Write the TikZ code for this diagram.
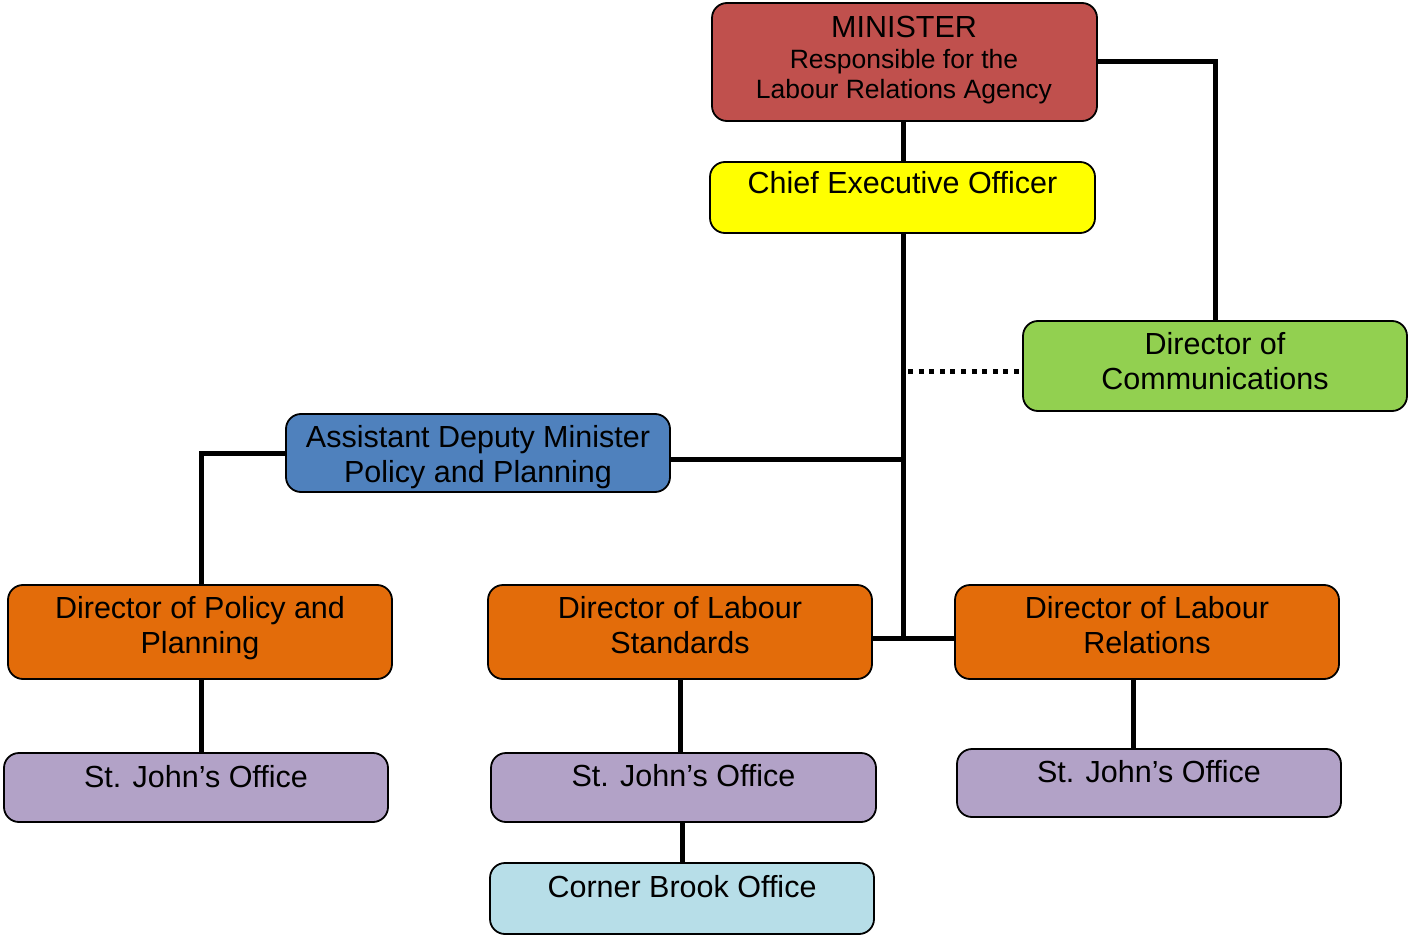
\documentclass[tikz,border=0pt]{standalone}
\usepackage{fontspec}
\setmainfont{Liberation Sans}
\definecolor{cmin}{HTML}{C0504D}
\definecolor{cceo}{HTML}{FFFF00}
\definecolor{ccom}{HTML}{92D050}
\definecolor{cadm}{HTML}{4F81BD}
\definecolor{cdir}{HTML}{E36C0A}
\definecolor{coff}{HTML}{B2A2C7}
\definecolor{ccb}{HTML}{B7DEE8}
\begin{document}
\begin{tikzpicture}[x=1pt,y=-1pt,
  box/.style={draw=black, line width=1.8pt, rounded corners=15pt, inner sep=0pt},
  bigtxt/.style={inner sep=0pt, align=center, font=\fontsize{30.5}{35}\selectfont},
  smalltxt/.style={inner sep=0pt, align=center, font=\fontsize{26.5}{30}\selectfont},
  conn/.style={line width=5pt},
  dotconn/.style={line width=5pt, dash pattern=on 5pt off 5.6pt}]
\useasboundingbox (0,0) rectangle (1409,936);
% boxes
\node[box, fill=cmin, minimum width=385pt, minimum height=118pt] (min) at (904.5,62) {};
\node[box, fill=cceo, minimum width=385pt, minimum height=71pt] (ceo) at (902.5,197.5) {};
\node[box, fill=ccom, minimum width=384pt, minimum height=90pt] (com) at (1215,366) {};
\node[box, fill=cadm, minimum width=384pt, minimum height=78pt] (adm) at (478,453) {};
\node[box, fill=cdir, minimum width=384pt, minimum height=94pt] (pol) at (200,632) {};
\node[box, fill=cdir, minimum width=384pt, minimum height=94pt] (std) at (680,632) {};
\node[box, fill=cdir, minimum width=384pt, minimum height=94pt] (rel) at (1147,632) {};
\node[box, fill=coff, minimum width=384pt, minimum height=69pt] (sja) at (196,787.5) {};
\node[box, fill=coff, minimum width=385pt, minimum height=69pt] (sjb) at (683.5,787.5) {};
\node[box, fill=coff, minimum width=384pt, minimum height=68pt] (sjc) at (1149,783) {};
\node[box, fill=ccb, minimum width=384pt, minimum height=71pt] (cb) at (682,898.5) {};
% texts
\node[bigtxt, anchor=base] (tmin) at (904,38) {MINISTER};
\node[smalltxt] (tmin2) at (904,77) {Responsible for the\\Labour Relations Agency};
\node[bigtxt, anchor=base] (tceo) at (902.5,194) {Chief Executive Officer};
\node[bigtxt] (tcom) at (1215,361) {Director of\\Communications};
\node[bigtxt] (tadm) at (478,457) {Assistant Deputy Minister\\Policy and Planning};
\node[bigtxt] (tpol) at (200,628) {Director of Policy and\\Planning};
\node[bigtxt] (tstd) at (680,625) {Director of Labour\\Standards};
\node[bigtxt] (trel) at (1147,625) {Director of Labour\\Relations};
\node[bigtxt, anchor=base] (tsja) at (196,787) {St. John’s Office};
\node[bigtxt, anchor=base] (tsjb) at (683.5,786) {St. John’s Office};
\node[bigtxt, anchor=base] (tsjc) at (1149,782) {St. John’s Office};
\node[bigtxt, anchor=base] (tcb) at (682,897) {Corner Brook Office};
% junction coordinates
\coordinate (jt) at (903,638);
\coordinate (ja) at (903,459);
\coordinate (jd) at (903,371);
\coordinate (jd0) at (908,371);
% connectors
\draw[conn] (min.south -| ja) -- (ceo.north -| ja);
\draw[conn] (min.east) -| (com.north);
\draw[conn] (ceo.south -| ja) -- (jt);
\draw[dotconn] (jd0) -- (com.west |- jd);
\draw[conn] (adm.east |- ja) -- (ja);
\draw[conn] (adm.west) -| ([xshift=1pt]pol.north);
\draw[conn] (std.east |- jt) -- (rel.west |- jt);
\draw[conn] ([xshift=1pt]pol.south) -- ([xshift=1pt]pol.south |- sja.north);
\draw[conn] (std.south) -- (std.south |- sjb.north);
\draw[conn] ([xshift=-14pt]rel.south) -- ([xshift=-14pt]rel.south |- sjc.north);
\draw[conn] ([xshift=-1pt]sjb.south) -- ([xshift=-1pt]sjb.south |- cb.north);
\end{tikzpicture}
\end{document}
